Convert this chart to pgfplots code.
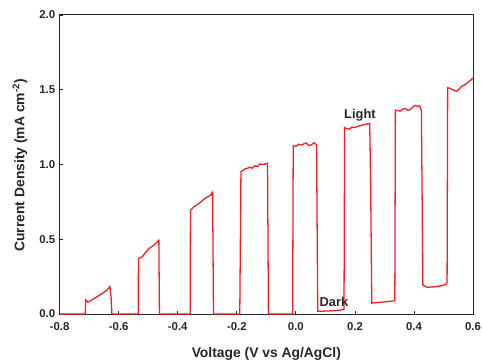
\documentclass[border=0pt]{standalone}
\usepackage{fontspec}
\setmainfont{Liberation Sans}
\usepackage{pgfplots}
\pgfplotsset{compat=1.18}
\definecolor{curvered}{RGB}{245,30,35}
\begin{document}
\begin{tikzpicture}
\begin{axis}[
  name=ax, at={(0,0)}, anchor=south west,
  scale only axis, width=416bp, height=301bp,
  xmin=-0.8, xmax=0.6, ymin=0, ymax=2.0,
  xtick={-0.8,-0.6,...,0.61}, ytick={0,0.5,...,2.01},
  /pgf/number format/fixed,
  /pgf/number format/fixed zerofill,
  /pgf/number format/precision=1,
  /pgf/number format/assume math mode=true,
  ticklabel style={font=\fontsize{11.5}{13}\selectfont\bfseries, text=black!85},
  xticklabel style={yshift=-5.5bp},
  yticklabel style={xshift=-1bp},
  tick pos=left, tick align=inside, major tick length=3bp,
  axis line style={black!85, line width=0.9pt},
  every tick/.style={black!85, line width=0.8pt},
  xlabel={Voltage (V vs Ag/AgCl)},
  ylabel={Current Density (mA cm\textsuperscript{-2})},
  label style={font=\fontsize{14}{16}\selectfont\bfseries, text=black!85},
  xlabel style={at={(axis description cs:0.5,-0.133)}, anchor=center},
  ylabel style={at={(axis description cs:-0.096,0.497)}, anchor=center},
  clip=true,
]
\addplot[curvered, line width=1.3pt] coordinates {
(-0.800,0) (-0.713,0) (-0.712,0.095) (-0.705,0.080) (-0.690,0.095) (-0.677,0.111) (-0.654,0.140) (-0.640,0.160) (-0.630,0.184) (-0.626,0.12) (-0.623,0)
(-0.600,0) (-0.534,0) (-0.533,0.372) (-0.520,0.383) (-0.510,0.410) (-0.497,0.439) (-0.481,0.460) (-0.464,0.494) (-0.462,0)
(-0.400,0) (-0.358,0) (-0.357,0.693) (-0.346,0.716) (-0.329,0.738) (-0.307,0.775) (-0.290,0.793) (-0.282,0.815) (-0.279,0)
(-0.240,0) (-0.190,0) (-0.186,0.952) (-0.172,0.970) (-0.156,0.981) (-0.148,0.975) (-0.139,0.992) (-0.130,0.985) (-0.122,1.003) (-0.110,1.000) (-0.096,1.008) (-0.093,0)
(-0.050,0) (-0.011,0) (-0.009,1.125) (0.000,1.122) (0.010,1.135) (0.018,1.130) (0.027,1.138) (0.035,1.143) (0.043,1.128) (0.051,1.130) (0.062,1.145) (0.070,1.130) (0.074,0.018)
(0.100,0.020) (0.130,0.022) (0.158,0.029) (0.163,0.03) (0.165,1.247) (0.172,1.240) (0.181,1.236) (0.190,1.250) (0.198,1.247) (0.206,1.252) (0.214,1.258) (0.222,1.262) (0.231,1.267) (0.240,1.270) (0.250,1.274) (0.253,0.9) (0.257,0.073)
(0.280,0.078) (0.305,0.082) (0.332,0.088) (0.335,0.09) (0.337,1.364) (0.345,1.360) (0.354,1.357) (0.362,1.370) (0.371,1.373) (0.380,1.362) (0.388,1.369) (0.396,1.385) (0.404,1.395) (0.412,1.388) (0.419,1.391) (0.425,1.36) (0.430,0.195)
(0.444,0.179) (0.460,0.181) (0.477,0.184) (0.495,0.190) (0.509,0.200) (0.512,0.21) (0.514,1.513) (0.520,1.510) (0.528,1.502) (0.536,1.495) (0.545,1.490) (0.553,1.505) (0.561,1.524) (0.570,1.530) (0.578,1.542) (0.590,1.560) (0.600,1.579)
};
\node[font=\fontsize{13}{15}\selectfont\bfseries, text=black!85] at (axis cs:0.217,1.332) {Light};
\node[font=\fontsize{13}{15}\selectfont\bfseries, text=black!85] at (axis cs:0.129,0.084) {Dark};
\end{axis}
\pgfresetboundingbox
\path[use as bounding box] (-60bp,-48bp) rectangle (425bp,316bp);
\end{tikzpicture}
\end{document}
